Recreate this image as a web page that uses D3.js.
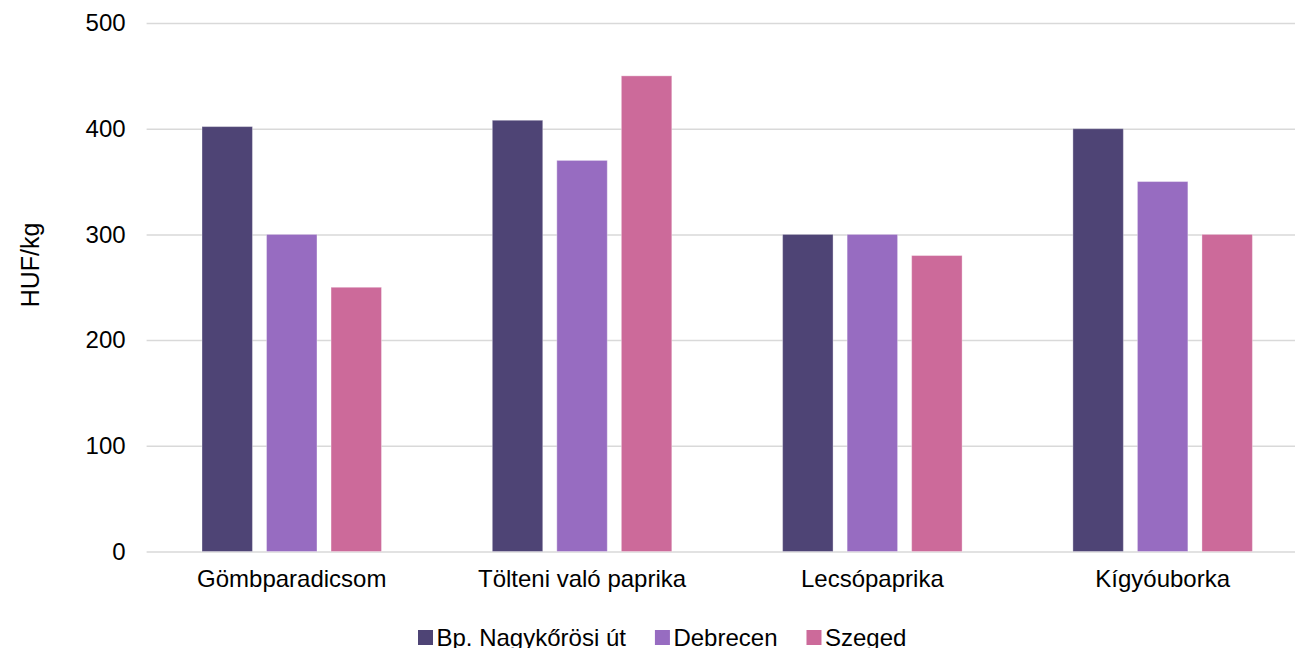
<!DOCTYPE html>
<html>
<head>
<meta charset="utf-8">
<script src="https://cdn.jsdelivr.net/npm/d3@7"></script>
<style>
  body { margin: 0; background: #fff; }
  svg text { font-family: "Liberation Sans", Arial, sans-serif; fill: #000; }
</style>
</head>
<body>
<svg class="chart"></svg>
<script>

//
// data
//

var categories = ["Gömbparadicsom", "Tölteni való paprika", "Lecsópaprika", "Kígyóuborka"];
var series = ["Bp. Nagykőrösi út", "Debrecen", "Szeged"];
var bp_values = [402, 408, 300, 400];
var debrecen_values = [300, 370, 300, 350];
var szeged_values = [250, 450, 280, 300];
var y_ticks = [0, 100, 200, 300, 400, 500];
var colors = ["#4e4475", "#976cc1", "#cc6a9a"];

var values = [bp_values, debrecen_values, szeged_values];

var width = 1295,
    height = 648;

var svg = d3.select(".chart")
    .attr("width", width)
    .attr("height", height);

// plot area (right side runs past the picture edge, as in the original)
var plot_left = 146.6,
    plot_w = 1161.2,
    plot_top = 23,
    plot_bottom = 551.5;

var x0 = d3.scaleBand()
    .domain(categories)
    .range([plot_left, plot_left + plot_w])
    .padding(0);

var x1 = d3.scaleBand()
    .domain(series)
    .range([55.4, x0.bandwidth() - 55.4])
    .paddingInner(0.218);

var y = d3.scaleLinear()
    .domain([0, 500])
    .range([plot_bottom, plot_top]);

//
// grid + y axis
//

var yAxis = d3.axisLeft(y)
    .tickValues(y_ticks)
    .tickSize(-plot_w)
    .tickPadding(21);

var gy = svg.append("g")
    .attr("transform", "translate(" + plot_left + ",0)")
    .call(yAxis);
gy.select(".domain").remove();
gy.selectAll(".tick line")
    .attr("stroke", "#d9d9d9")
    .attr("stroke-width", 1.5);
gy.selectAll(".tick text")
    .attr("font-family", null)
    .attr("font-size", "24px")
    .attr("fill", "#000");

//
// bars
//

var groups = svg.selectAll("g.cat")
    .data(categories)
    .enter().append("g")
    .attr("class", "cat")
    .attr("transform", function (d) { return "translate(" + x0(d) + ",0)"; });

groups.selectAll("rect")
    .data(function (d, i) {
        return series.map(function (s, j) { return { s: s, j: j, v: values[j][i] }; });
    })
    .enter().append("rect")
    .attr("x", function (d) { return x1(d.s); })
    .attr("y", function (d) { return y(d.v); })
    .attr("width", x1.bandwidth())
    .attr("height", function (d) { return y(0) - y(d.v); })
    .attr("fill", function (d) { return colors[d.j]; })
    .attr("stroke", "rgba(255,255,255,0.35)")
    .attr("stroke-width", 1);

//
// x axis labels
//

var xAxis = d3.axisBottom(x0).tickSize(0).tickPadding(18);
var gx = svg.append("g")
    .attr("transform", "translate(0," + plot_bottom + ")")
    .call(xAxis);
gx.select(".domain").remove();
gx.selectAll(".tick text")
    .attr("font-family", null)
    .attr("font-size", "24px")
    .attr("fill", "#000");

//
// y title
//

svg.append("text")
    .attr("transform", "translate(39,265) rotate(-90)")
    .attr("text-anchor", "middle")
    .attr("font-size", "25px")
    .text("HUF/kg");

//
// legend
//

var legend = svg.append("g");
var lx = 418;
series.forEach(function (s, i) {
    legend.append("rect")
        .attr("x", lx)
        .attr("y", 630)
        .attr("width", 15)
        .attr("height", 15)
        .attr("fill", colors[i]);
    var t = legend.append("text")
        .attr("x", lx + 18.5)
        .attr("y", 645.5)
        .attr("font-size", "24px")
        .text(s);
    lx += 18.5 + t.node().getComputedTextLength() + 29;
});

</script>
</body>
</html>
